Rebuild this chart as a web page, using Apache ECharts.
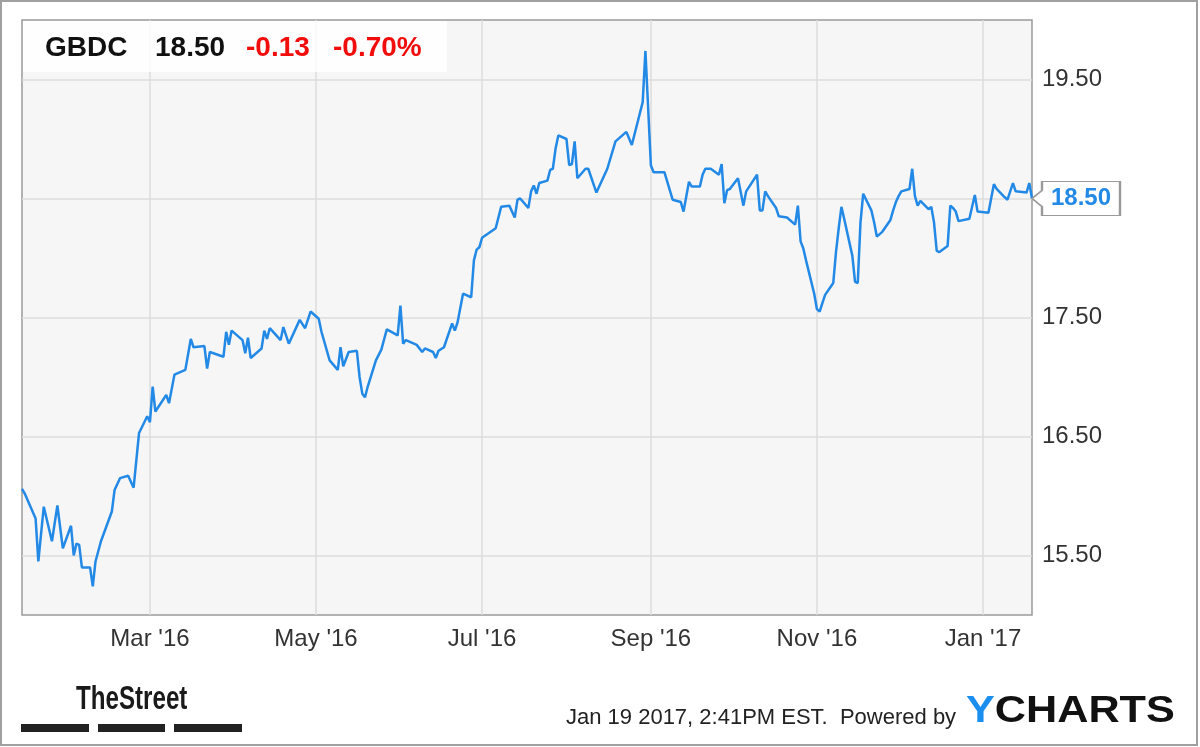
<!DOCTYPE html>
<html><head><meta charset="utf-8">
<script src="https://cdn.jsdelivr.net/npm/echarts@6/dist/echarts.min.js"></script>
<style>html,body{margin:0;padding:0;background:#fff}#c{width:1200px;height:747px}</style>
</head><body><div id="c"></div>
<script>
// ---- data ----
const dates = [
'2016-01-14','2016-01-15','2016-01-19','2016-01-20','2016-01-22','2016-01-25','2016-01-27','2016-01-29',
'2016-02-01','2016-02-02','2016-02-03','2016-02-04','2016-02-05','2016-02-08','2016-02-09','2016-02-10',
'2016-02-12','2016-02-16','2016-02-17','2016-02-19','2016-02-22','2016-02-24','2016-02-26','2016-02-29',
'2016-03-01','2016-03-02','2016-03-03','2016-03-07','2016-03-08','2016-03-10','2016-03-14','2016-03-16',
'2016-03-17','2016-03-21','2016-03-22','2016-03-23','2016-03-28','2016-03-29','2016-03-30','2016-03-31',
'2016-04-04','2016-04-05','2016-04-06','2016-04-07','2016-04-11','2016-04-12','2016-04-13','2016-04-14',
'2016-04-18','2016-04-19','2016-04-21','2016-04-25','2016-04-27','2016-04-29','2016-05-02','2016-05-03',
'2016-05-06','2016-05-09','2016-05-10','2016-05-11','2016-05-13','2016-05-16','2016-05-17','2016-05-18',
'2016-05-19','2016-05-20','2016-05-23','2016-05-25','2016-05-27','2016-05-31','2016-06-01','2016-06-02',
'2016-06-03','2016-06-07','2016-06-09','2016-06-10','2016-06-13','2016-06-14','2016-06-15','2016-06-17',
'2016-06-20','2016-06-21','2016-06-22','2016-06-24','2016-06-27','2016-06-28','2016-06-29','2016-06-30',
'2016-07-01','2016-07-06','2016-07-08','2016-07-11','2016-07-13','2016-07-14','2016-07-15','2016-07-18',
'2016-07-19','2016-07-20','2016-07-21','2016-07-22','2016-07-25','2016-07-26','2016-07-27','2016-07-28',
'2016-07-29','2016-08-01','2016-08-02','2016-08-03','2016-08-04','2016-08-05','2016-08-08','2016-08-09',
'2016-08-12','2016-08-16','2016-08-19','2016-08-23','2016-08-25','2016-08-29','2016-08-30','2016-08-31',
'2016-09-01','2016-09-02','2016-09-06','2016-09-09','2016-09-12','2016-09-13','2016-09-15','2016-09-16',
'2016-09-19','2016-09-20','2016-09-21','2016-09-23','2016-09-26','2016-09-27','2016-09-28','2016-09-29',
'2016-09-30','2016-10-03','2016-10-05','2016-10-06','2016-10-10','2016-10-11','2016-10-12','2016-10-13',
'2016-10-14','2016-10-17','2016-10-18','2016-10-21','2016-10-24','2016-10-25','2016-10-26','2016-10-27',
'2016-10-28','2016-10-31','2016-11-01','2016-11-02','2016-11-03','2016-11-04','2016-11-07','2016-11-08',
'2016-11-09','2016-11-10','2016-11-11','2016-11-14','2016-11-15','2016-11-16','2016-11-17','2016-11-18',
'2016-11-21','2016-11-22','2016-11-23','2016-11-25','2016-11-28','2016-11-29','2016-11-30','2016-12-01',
'2016-12-02','2016-12-05','2016-12-06','2016-12-07','2016-12-08','2016-12-09','2016-12-12','2016-12-13',
'2016-12-14','2016-12-15','2016-12-16','2016-12-19','2016-12-20','2016-12-21','2016-12-22','2016-12-23',
'2016-12-27','2016-12-28','2016-12-29','2016-12-30','2017-01-03','2017-01-04','2017-01-05','2017-01-06',
'2017-01-09','2017-01-10','2017-01-11','2017-01-12','2017-01-13','2017-01-17','2017-01-18','2017-01-19'
];
const prices = [
16.06,16.02,15.81,15.45,15.91,15.62,15.92,15.56,
15.75,15.50,15.60,15.59,15.40,15.40,15.24,15.45,
15.62,15.87,16.05,16.15,16.17,16.07,16.53,16.67,
16.62,16.92,16.71,16.85,16.78,17.02,17.06,17.32,
17.25,17.26,17.07,17.21,17.17,17.38,17.27,17.39,
17.31,17.20,17.33,17.16,17.24,17.39,17.32,17.41,
17.31,17.42,17.28,17.48,17.41,17.55,17.49,17.38,
17.14,17.06,17.25,17.09,17.21,17.22,17.00,16.86,
16.83,16.92,17.14,17.23,17.40,17.35,17.60,17.28,
17.31,17.27,17.21,17.24,17.21,17.16,17.22,17.25,
17.45,17.39,17.46,17.70,17.67,17.98,18.07,18.09,
18.17,18.25,18.43,18.44,18.34,18.49,18.50,18.42,
18.56,18.61,18.54,18.63,18.65,18.74,18.75,18.92,
19.03,19.00,18.78,18.79,18.98,18.67,18.75,18.75,
18.55,18.75,18.98,19.06,18.95,19.31,19.74,19.26,
18.78,18.72,18.72,18.49,18.47,18.39,18.64,18.60,
18.60,18.70,18.75,18.75,18.70,18.79,18.46,18.57,
18.58,18.67,18.44,18.56,18.70,18.40,18.40,18.56,
18.52,18.42,18.35,18.34,18.28,18.44,18.14,18.08,
17.98,17.70,17.57,17.55,17.62,17.69,17.79,18.05,
18.25,18.43,18.33,18.02,17.80,17.79,18.30,18.54,
18.40,18.30,18.18,18.22,18.32,18.40,18.47,18.52,
18.56,18.58,18.75,18.52,18.44,18.48,18.41,18.43,
18.30,18.06,18.05,18.10,18.44,18.42,18.39,18.31,
18.33,18.43,18.53,18.39,18.38,18.50,18.62,18.58,
18.51,18.49,18.56,18.63,18.56,18.55,18.63,18.50
];
const xTickDates = ['2016-03-01','2016-05-01','2016-07-01','2016-09-01','2016-11-01','2017-01-01'];
const xTickLabels = ["Mar '16","May '16","Jul '16","Sep '16","Nov '16","Jan '17"];
const yTicks = [15.5, 16.5, 17.5, 18.5, 19.5];
const yMin = 15, yMax = 20;
const xMin = '2016-01-14', xMax = '2017-01-19';
const ticker = 'GBDC', lastPrice = '18.50', change = '-0.13', changePct = '-0.70%';
const stamp = 'Jan 19 2017, 2:41PM EST.  Powered by';

// ---- chart ----
const FONT = "'Liberation Sans', Arial, sans-serif";
const BLUE = '#2389e6';
const toTime = d => +echarts.time.parse(d);
const xTickTimes = xTickDates.map(toTime);
const labelOf = {};
xTickTimes.forEach((t, i) => { labelOf[t] = xTickLabels[i]; });
const seriesData = dates.map((d, i) => [toTime(d), prices[i]]);

const chart = echarts.init(document.getElementById('c'), null, {renderer: 'canvas'});
chart.setOption({
  animation: false,
  backgroundColor: '#fff',
  grid: {left: 22, right: 168, top: 20, bottom: 132, show: true,
         backgroundColor: '#f6f6f6', borderColor: '#9a9a9a', borderWidth: 1.5},
  xAxis: {
    type: 'value', min: toTime(xMin), max: toTime(xMax),
    axisLine: {show: false},
    axisTick: {show: false, customValues: xTickTimes},
    axisLabel: {customValues: xTickTimes, formatter: v => labelOf[v] || '',
                fontFamily: FONT, fontSize: 24, color: '#333', margin: 12},
    splitLine: {show: true, lineStyle: {color: '#dcdcdc', width: 1.5}}
  },
  yAxis: {
    type: 'value', position: 'right', min: yMin, max: yMax,
    axisLine: {show: false},
    axisTick: {show: false, customValues: yTicks},
    axisLabel: {customValues: yTicks, formatter: v => v.toFixed(2),
                fontFamily: FONT, fontSize: 24, color: '#333', margin: 10},
    splitLine: {show: true, lineStyle: {color: '#dcdcdc', width: 1.5}}
  },
  series: [{
    type: 'line', data: seriesData, showSymbol: false, symbol: 'none',
    lineStyle: {color: BLUE, width: 2.5}, clip: false, silent: true,
    markPoint: {
      silent: true,
      symbol: 'path://M0 17 L10 9 L10 0 L88 0 L88 34 L10 34 L10 25 Z',
      symbolSize: [88, 34], symbolKeepAspect: false, symbolOffset: [44, 0],
      itemStyle: {color: '#fff', borderColor: '#9a9a9a', borderWidth: 1.5},
      label: {show: true, position: 'inside', offset: [5, 0], formatter: lastPrice,
              color: BLUE, fontFamily: FONT, fontSize: 24, fontWeight: 'bold'},
      data: [{coord: [toTime(dates[dates.length - 1]), prices[prices.length - 1]]}]
    }
  }],
  graphic: [
    {type: 'rect', z: 100, silent: true, shape: {x: 1, y: 1, width: 1196, height: 744},
     style: {fill: 'none', stroke: '#a0a0a0', lineWidth: 2}},
    {type: 'rect', z: 100, silent: true, shape: {x: 23, y: 21, width: 424, height: 51},
     style: {fill: 'rgba(255,255,255,0.82)'}},
    {type: 'text', z: 101, silent: true, x: 45, y: 48,
     style: {text: ticker, fill: '#111', font: "bold 28px " + FONT, textVerticalAlign: 'middle'}},
    {type: 'text', z: 101, silent: true, x: 155, y: 48,
     style: {text: lastPrice, fill: '#111', font: "bold 28px " + FONT, textVerticalAlign: 'middle'}},
    {type: 'text', z: 101, silent: true, x: 246, y: 48,
     style: {text: change, fill: '#f20d0d', font: "bold 28px " + FONT, textVerticalAlign: 'middle'}},
    {type: 'text', z: 101, silent: true, x: 333, y: 48,
     style: {text: changePct, fill: '#f20d0d', font: "bold 28px " + FONT, textVerticalAlign: 'middle'}},
    {type: 'text', z: 101, silent: true, x: 76, y: 700, scaleX: 0.71,
     style: {text: 'TheStreet', fill: '#1a1a1a', font: "bold 34px " + FONT, textVerticalAlign: 'middle'}},
    {type: 'rect', z: 100, silent: true, shape: {x: 21, y: 724, width: 68, height: 8}, style: {fill: '#222'}},
    {type: 'rect', z: 100, silent: true, shape: {x: 98, y: 724, width: 67, height: 8}, style: {fill: '#222'}},
    {type: 'rect', z: 100, silent: true, shape: {x: 174, y: 724, width: 68, height: 8}, style: {fill: '#222'}},
    {type: 'text', z: 101, silent: true, x: 566, y: 718,
     style: {text: stamp, fill: '#222', font: "22px " + FONT, textVerticalAlign: 'middle'}},
    {type: 'text', z: 101, silent: true, x: 966, y: 712, scaleX: 1.2,
     style: {text: '{y|Y}{c|CHARTS}', textVerticalAlign: 'middle',
             rich: {y: {fill: '#1a8ff0', font: "bold 36px " + FONT},
                    c: {fill: '#111', font: "bold 36px " + FONT}}}}
  ]
});
</script></body></html>
